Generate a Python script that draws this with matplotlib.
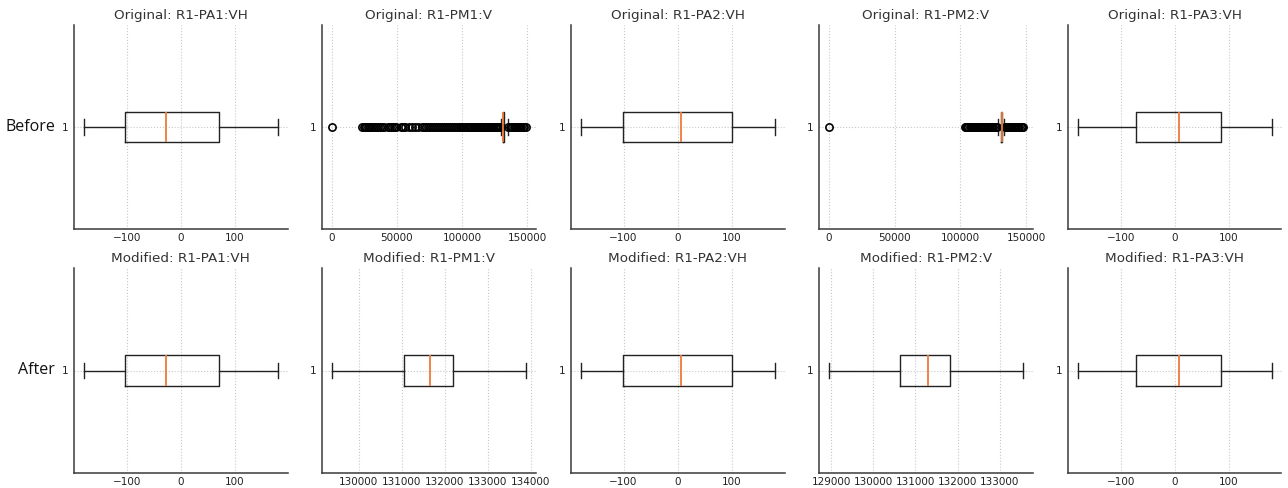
import matplotlib
matplotlib.use("Agg")
import matplotlib.pyplot as plt
from matplotlib.ticker import MultipleLocator

# ---------------- data ----------------
columns = ["R1-PA1:VH", "R1-PM1:V", "R1-PA2:VH", "R1-PM2:V", "R1-PA3:VH"]
row_labels = ["Before", "After"]

# five-number summaries: [whislo, q1, median, q3, whishi]
before_stats = [
    [-180, -103, -27, 70, 179],
    [129800, 131000, 131700, 132200, 135000],
    [-179, -101, 5.5, 99.5, 179],
    [128700, 130600, 131300, 131800, 133300],
    [-179.5, -71, 7, 86, 179],
]
after_stats = [
    [-180, -103, -27, 70, 179],
    [129370, 131060, 131670, 132200, 133890],
    [-179, -101, 5.5, 99.5, 179],
    [128945, 130645, 131300, 131815, 133545],
    [-179.5, -71, 7, 86, 179],
]

# outliers
pm1_before_fliers = [
    0, 23500, 24500, 25500, 26500, 27500, 28500, 29500, 31000, 32500, 34000,
    35500, 37000, 38500, 40000, 43000, 44500, 46000, 47500, 49000, 53500,
    55000, 56500, 59000, 61500, 64000, 66500, 69000, 71000, 72500, 74000,
    75500, 77000, 78500, 80000, 81500, 83000, 84500, 86000, 87500, 89000,
    90500, 92000, 93500, 95000, 96500, 98000, 99500, 101000, 102500, 104000,
    105000, 106000, 107000, 108000, 109000, 110000, 111000, 112000, 113000,
    114000, 115000, 116000, 117000, 118000, 119000, 120000, 121000, 122000,
    123000, 124000, 125000, 126000, 127000, 128000, 129000, 135500, 136500,
    137500, 138500, 139500, 140500, 141500, 142500, 143500, 144500, 145500,
    146500, 147500, 148800,
]
pm2_before_fliers = [
    0, 103200, 104000, 105000, 106000, 107000, 108000, 109000, 110000,
    111000, 112000, 113000, 114000, 115000, 116000, 117000, 118000, 119000,
    120000, 121000, 122000, 123000, 124000, 125000, 126000, 127000, 128000,
    133800, 134800, 135800, 136800, 137800, 138800, 139800, 140800, 141800,
    142800, 143800, 144800, 145800, 146800, 147400,
]
before_fliers = [[], pm1_before_fliers, [], pm2_before_fliers, []]
after_fliers = [[], [], [], [], []]

# tick spacing per panel (None = automatic)
before_tick_step = [None, 50000, None, 50000, None]
after_tick_step = [None, 1000, None, 1000, None]

# ---------------- figure ----------------
W, H = 1288, 488
fig = plt.figure(figsize=(W / 100, H / 100), dpi=100)

col_left = [74, 322, 571, 819, 1068]
ax_w = 213.5
rows = [(25, 229), (268, 473)]

spine_col = "#3a3a3a"


def make_stats(s, fl):
    return dict(whislo=s[0], q1=s[1], med=s[2], q3=s[3], whishi=s[4],
                fliers=fl, label="1")


for r, (stats, fliers, steps, prefix) in enumerate(
        [(before_stats, before_fliers, before_tick_step, "Original"),
         (after_stats, after_fliers, after_tick_step, "Modified")]):
    top, bot = rows[r]
    for c in range(5):
        ax = fig.add_axes([col_left[c] / W, 1 - bot / H, ax_w / W, (bot - top) / H])
        ax.bxp([make_stats(stats[c], fliers[c])], vert=False,
               boxprops=dict(color="#222222", linewidth=1.0),
               whiskerprops=dict(color="#222222", linewidth=1.0),
               capprops=dict(color="#222222", linewidth=1.0),
               medianprops=dict(color="#f07a3a", linewidth=1.3),
               flierprops=dict(marker="o", markersize=5.2, markerfacecolor="none",
                               markeredgecolor="black", markeredgewidth=1.2))
        ax.set_title(f"{prefix}: {columns[c]}", fontsize=9.7, color="#333333", pad=4)
        ax.grid(True, linestyle=":", color="#c8c8c8", linewidth=0.8)
        ax.set_axisbelow(True)
        for s in ["top", "right"]:
            ax.spines[s].set_visible(False)
        for s in ["left", "bottom"]:
            ax.spines[s].set_color(spine_col)
            ax.spines[s].set_linewidth(1.1)
        if steps[c] is not None:
            ax.xaxis.set_major_locator(MultipleLocator(steps[c]))
        ax.tick_params(axis="both", length=0, labelsize=7.5, colors="#222222")
        ax.tick_params(axis="x", pad=3)
        ax.tick_params(axis="y", pad=4)
        ax.ticklabel_format(axis="x", style="plain", useOffset=False)
    ycen = (top + bot) / 2
    fig.text(55 / W, 1 - ycen / H, row_labels[r], ha="right", va="center",
             fontsize=11.5, family=["Open Sans", "DejaVu Sans"], color="#111111")

fig.savefig("out.png", dpi=100)
